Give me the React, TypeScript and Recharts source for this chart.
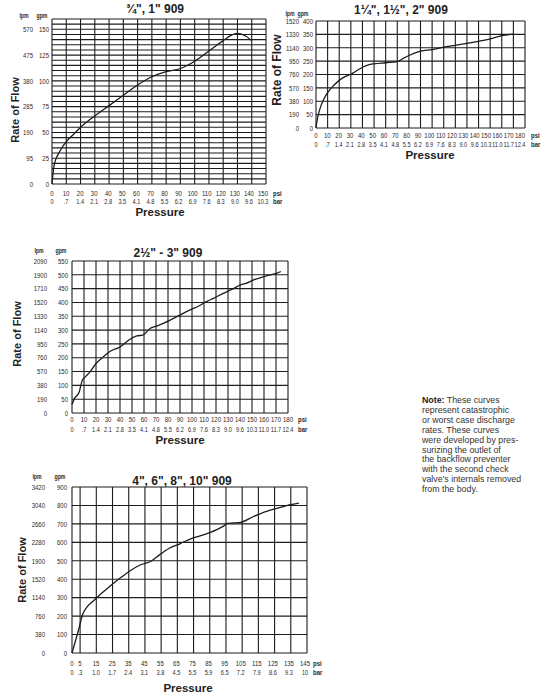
import React from "react";
import { LineChart, Line, XAxis, YAxis, CartesianGrid } from "recharts";

// ---- chart 1: 3/4", 1" ----
const psi1 = [0, 10, 20, 30, 40, 50, 60, 70, 80, 90, 100, 110, 120, 130, 140, 150];
const bar1 = ["0", ".7", "1.4", "2.1", "2.8", "3.5", "4.1", "4.8", "5.5", "6.2", "6.9", "7.6", "8.3", "9.0", "9.6", "10.3"];
const gpm1 = [0, 25, 50, 75, 100, 125, 150];
const lpm1 = ["0", "95", "190", "285", "380", "475", "570"];
const grid1 = [0, 5, 10, 15, 20, 25, 30, 35, 40, 45, 50, 55, 60, 65, 70, 75, 80, 85, 90, 95, 100, 105, 110, 115, 120, 125, 130, 135, 140, 145, 150, 155, 160];
const flowPsi1 = [0, 1, 2, 4, 6, 10, 15, 20, 30, 40, 50, 60, 70, 80, 90, 100, 110, 120, 127, 130, 135, 140];
const flowGpm1 = [0, 14, 21, 28, 33, 41, 48, 55, 66, 76, 86, 96, 104, 109, 112, 119, 129, 139, 145, 146, 144, 139];

// ---- chart 2: 1 1/4", 1 1/2", 2" ----
const psi2 = [0, 10, 20, 30, 40, 50, 60, 70, 80, 90, 100, 110, 120, 130, 140, 150, 160, 170, 180];
const bar2 = ["0", ".7", "1.4", "2.1", "2.8", "3.5", "4.1", "4.8", "5.5", "6.2", "6.9", "7.6", "8.3", "9.0", "9.6", "10.3", "11.0", "11.7", "12.4"];
const gpm2 = [0, 50, 100, 150, 200, 250, 300, 350, 400];
const lpm2 = ["0", "190", "380", "570", "760", "950", "1140", "1330", "1520"];
const flowPsi2 = [0, 1, 2, 4, 7, 10, 15, 20, 25, 30, 35, 40, 45, 50, 60, 70, 75, 80, 90, 100, 110, 120, 130, 140, 150, 160, 170];
const flowGpm2 = [0, 30, 50, 80, 110, 132, 158, 178, 192, 201, 214, 227, 236, 240, 244, 248, 260, 271, 287, 293, 302, 309, 316, 324, 333, 345, 351];

// ---- chart 3: 2 1/2" - 3" ----
const psi3 = [0, 10, 20, 30, 40, 50, 60, 70, 80, 90, 100, 110, 120, 130, 140, 150, 160, 170, 180];
const bar3 = ["0", ".7", "1.4", "2.1", "2.8", "3.5", "4.1", "4.8", "5.5", "6.2", "6.9", "7.6", "8.3", "9.0", "9.6", "10.3", "11.0", "11.7", "12.4"];
const gpm3 = [0, 50, 100, 150, 200, 250, 300, 350, 400, 450, 500, 550];
const lpm3 = ["0", "190", "380", "570", "760", "950", "1140", "1330", "1520", "1710", "1900", "2090"];
const flowPsi3 = [0, 2, 6, 8.5, 10.5, 15, 20, 26, 31, 40, 48, 54, 59, 65, 70, 76, 87, 98, 106, 112, 118, 126, 134, 140, 145, 151, 162, 170, 174];
const flowGpm3 = [31, 52, 76, 118, 128, 149, 179, 203, 221, 239, 266, 279, 282, 306, 314, 324, 348, 372, 388, 403, 415, 433, 449, 463, 469, 481, 496, 505, 512];

// ---- chart 4: 4", 6", 8", 10" ----
const psi4 = [0, 5, 15, 25, 35, 45, 55, 65, 75, 85, 95, 105, 115, 125, 135, 145];
const bar4 = ["0", ".3", "1.0", "1.7", "2.4", "3.1", "3.8", "4.5", "5.5", "5.9", "6.5", "7.2", "7.9", "8.6", "9.3", "10"];
const gpm4 = [0, 100, 200, 300, 400, 500, 600, 700, 800, 900];
const lpm4 = ["0", "380", "760", "1140", "1520", "1900", "2280", "2660", "3040", "3420"];
const flowPsi4 = [0, 3.7, 6.8, 9.3, 13, 17, 23, 29.5, 35.7, 42, 49, 54, 60, 66.6, 74, 79, 85, 90, 93, 96, 100, 104, 112, 120, 128.5, 134.6, 140];
const flowGpm4 = [0, 114, 214, 250, 281, 314, 359, 405, 445, 477, 499, 532, 568, 592, 622, 635, 653, 672, 685, 703, 705, 708, 740, 768, 789, 804, 813];

const W = 542;
const H = 697;
const YW = 30;
const XH = 20;
const INK = "#1c1c1c";
const FONT = "'Liberation Sans', Arial, Helvetica, sans-serif";

const Narrow = ({ x, y, size, anchor, children, weight }: any) => (
  <text
    transform={`translate(${x},${y}) scale(0.8,1)`}
    textAnchor={anchor}
    dominantBaseline="central"
    fontSize={size}
    fontWeight={weight || "normal"}
    fontFamily={FONT}
    fill="#2a2a2a"
  >
    {children}
  </text>
);

// tick labels in the print drift slightly left of their grid lines towards the right end
const XTick = ({ x, payload, ticks, bars, y1, y2, drift, xMax }: any) => {
  const i = ticks.indexOf(payload.value);
  const tx = x + (drift * payload.value) / xMax;
  return (
    <g>
      <Narrow x={tx} y={y1} size={7.5} anchor="middle">{payload.value}</Narrow>
      <Narrow x={tx} y={y2} size={7} anchor="middle">{bars[i]}</Narrow>
    </g>
  );
};

const YTick = ({ y, payload, ticks, lpm, xg, xl }: any) => {
  const i = ticks.indexOf(payload.value);
  return (
    <g>
      <Narrow x={xg} y={y} size={7.5} anchor="end">{payload.value}</Narrow>
      <Narrow x={xl} y={y} size={7.5} anchor="end">{lpm[i]}</Narrow>
    </g>
  );
};

const FlowChart = ({ box, psi, bars, gpm, lpm, xMax, yMax, grid, flowPsi, flowGpm, dy1, dy2, gapG, gapL, drift = 0 }: any) => {
  const data = flowPsi.map((p: number, i: number) => ({ psi: p, gpm: flowGpm[i] }));
  return (
    <div style={{ position: "absolute", left: 0, top: 0 }}>
      <LineChart
        width={W}
        height={H}
        data={data}
        margin={{ top: box.top, left: box.left - YW, right: W - box.right, bottom: H - box.bottom - XH }}
      >
        <CartesianGrid
          stroke={INK}
          strokeWidth={1.1}
          fill="none"
          horizontalValues={grid || gpm}
          verticalValues={psi}
        />
        <XAxis
          dataKey="psi"
          type="number"
          domain={[0, xMax]}
          ticks={psi}
          interval={0}
          height={XH}
          axisLine={false}
          tickLine={false}
          tick={(p: any) => (
            <XTick {...p} ticks={psi} bars={bars} y1={box.bottom + dy1} y2={box.bottom + dy2} drift={drift} xMax={xMax} />
          )}
        />
        <YAxis
          type="number"
          domain={[0, yMax]}
          ticks={gpm}
          interval={0}
          width={YW}
          axisLine={false}
          tickLine={false}
          tick={(p: any) => (
            <YTick {...p} ticks={gpm} lpm={lpm} xg={box.left - gapG} xl={box.left - gapL} />
          )}
        />
        <Line
          type="monotone"
          dataKey="gpm"
          stroke={INK}
          strokeWidth={1.3}
          dot={false}
          isAnimationActive={false}
        />
      </LineChart>
    </div>
  );
};

const Bold = ({ x, y, size, children, rotate }: any) => (
  <text
    x={x}
    y={y}
    textAnchor="middle"
    dominantBaseline="central"
    fontSize={size}
    fontWeight="bold"
    fontFamily={FONT}
    fill="#222"
    transform={rotate ? `rotate(-90 ${x} ${y})` : undefined}
  >
    {children}
  </text>
);

const Labels = () => (
  <svg width={W} height={H} style={{ position: "absolute", left: 0, top: 0 }}>
    {/* chart 1 */}
    <Bold x={155} y={9} size={12}>{"\u00BE\", 1\" 909"}</Bold>
    <Narrow x={24} y={16} size={6.5} anchor="middle" weight="bold">lpm</Narrow>
    <Narrow x={42} y={16} size={6.5} anchor="middle" weight="bold">gpm</Narrow>
    <Bold x={15} y={110} size={11} rotate>Rate of Flow</Bold>
    <Bold x={160} y={212} size={11.5}>Pressure</Bold>
    <Narrow x={273} y={193} size={7.5} anchor="start" weight="bold">psi</Narrow>
    <Narrow x={273} y={201} size={7.5} anchor="start" weight="bold">bar</Narrow>

    {/* chart 2 */}
    <Bold x={401} y={10} size={12}>{"1\u00BC\", 1\u00BD\", 2\" 909"}</Bold>
    <Narrow x={290} y={14} size={6.5} anchor="middle" weight="bold">lpm</Narrow>
    <Narrow x={303} y={14} size={6.5} anchor="middle" weight="bold">gpm</Narrow>
    <Bold x={277} y={70} size={12} rotate>Rate of Flow</Bold>
    <Bold x={430} y={155} size={11.5}>Pressure</Bold>
    <Narrow x={531} y={135} size={7.5} anchor="start" weight="bold">psi</Narrow>
    <Narrow x={531} y={144} size={7.5} anchor="start" weight="bold">bar</Narrow>

    {/* chart 3 */}
    <Bold x={168} y={253} size={12}>{"2\u00BD\" - 3\" 909"}</Bold>
    <Narrow x={39} y={251} size={6.5} anchor="middle" weight="bold">lpm</Narrow>
    <Narrow x={61} y={251} size={6.5} anchor="middle" weight="bold">gpm</Narrow>
    <Bold x={17} y={334} size={11} rotate>Rate of Flow</Bold>
    <Bold x={180} y={440} size={11.5}>Pressure</Bold>
    <Narrow x={298} y={419} size={7.5} anchor="start" weight="bold">psi</Narrow>
    <Narrow x={298} y={429} size={7.5} anchor="start" weight="bold">bar</Narrow>

    {/* chart 4 */}
    <Bold x={182} y={481} size={12}>{"4\", 6\", 8\", 10\" 909"}</Bold>
    <Narrow x={37} y={477} size={6.5} anchor="middle" weight="bold">lpm</Narrow>
    <Narrow x={60} y={477} size={6.5} anchor="middle" weight="bold">gpm</Narrow>
    <Bold x={22} y={570} size={11} rotate>Rate of Flow</Bold>
    <Bold x={188} y={688} size={11.5}>Pressure</Bold>
    <Narrow x={313} y={663} size={7.5} anchor="start" weight="bold">psi</Narrow>
    <Narrow x={313} y={672} size={7.5} anchor="start" weight="bold">bar</Narrow>
  </svg>
);

const noteLines = [
  "represent catastrophic",
  "or worst case discharge",
  "rates. These curves",
  "were developed by pres-",
  "surizing the outlet of",
  "the backflow preventer",
  "with the second check",
  "valve\u2019s internals removed",
  "from the body.",
];

export default function App() {
  return (
    <div style={{ position: "absolute", left: 0, top: 0, width: W, height: H, background: "#fff" }}>
      <FlowChart
        box={{ left: 52, right: 266, top: 19, bottom: 184 }}
        psi={psi1} bars={bar1} gpm={gpm1} lpm={lpm1} grid={grid1}
        xMax={150} yMax={160}
        flowPsi={flowPsi1} flowGpm={flowGpm1}
        dy1={9} dy2={17} gapG={3} gapL={19} drift={-3}
      />
      <FlowChart
        box={{ left: 316, right: 525, top: 21, bottom: 128 }}
        psi={psi2} bars={bar2} gpm={gpm2} lpm={lpm2}
        xMax={180} yMax={400}
        flowPsi={flowPsi2} flowGpm={flowGpm2}
        dy1={7.5} dy2={16} gapG={3} gapL={17} drift={-5}
      />
      <FlowChart
        box={{ left: 72, right: 288, top: 261, bottom: 413 }}
        psi={psi3} bars={bar3} gpm={gpm3} lpm={lpm3}
        xMax={180} yMax={550}
        flowPsi={flowPsi3} flowGpm={flowGpm3}
        dy1={6.5} dy2={16} gapG={4} gapL={25}
      />
      <FlowChart
        box={{ left: 72, right: 307, top: 487, bottom: 653 }}
        psi={psi4} bars={bar4} gpm={gpm4} lpm={lpm4}
        xMax={145} yMax={900}
        flowPsi={flowPsi4} flowGpm={flowGpm4}
        dy1={10} dy2={19} gapG={5} gapL={27} drift={-2}
      />
      <Labels />
      <div
        style={{
          position: "absolute",
          left: 422,
          top: 396,
          width: 118,
          fontFamily: FONT,
          fontSize: 8.8,
          lineHeight: "9.9px",
          color: "#333",
          whiteSpace: "nowrap",
        }}
      >
        <div>
          <b style={{ color: "#222" }}>Note:</b> These curves
        </div>
        {noteLines.map((l) => (
          <div key={l}>{l}</div>
        ))}
      </div>
    </div>
  );
}
